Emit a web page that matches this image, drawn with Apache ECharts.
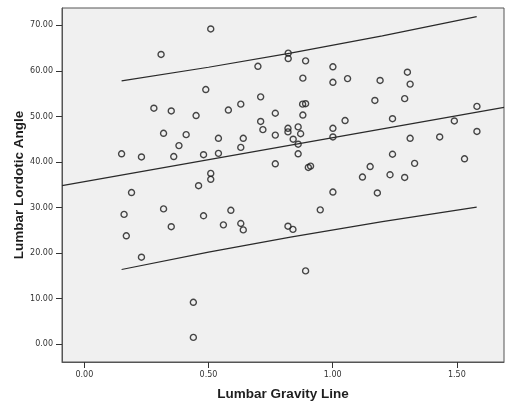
<!DOCTYPE html>
<html>
<head>
<meta charset="utf-8">
<script src="https://cdn.jsdelivr.net/npm/echarts@6/dist/echarts.min.js"></script>
<style>
  html, body { margin: 0; padding: 0; background: #fff; }
  #chart { width: 505px; height: 403px; }
</style>
</head>
<body>
<div id="chart"></div>
<script>
// observed points: [gravity line, lordotic angle]
var gravityLine = [
  0.509, 0.309, 0.489, 0.280, 0.350, 0.450, 0.580, 0.630, 0.319, 0.410,
  0.381, 0.540, 0.640, 0.630, 0.150, 0.230, 0.360, 0.480, 0.540, 0.509,
  0.509, 0.460, 0.190, 0.699, 0.821, 0.821, 0.891, 1.001, 0.880, 1.001,
  1.060, 1.191, 1.301, 1.312, 0.710, 1.170, 1.290, 0.879, 0.891, 0.769,
  0.880, 1.581, 0.710, 0.719, 1.050, 1.241, 1.490, 0.820, 0.820, 0.861,
  0.871, 0.769, 1.001, 1.001, 0.841, 0.861, 0.861, 1.312, 1.431, 1.581,
  1.241, 0.769, 0.902, 0.911, 1.531, 1.330, 1.151, 1.120, 1.231, 1.290,
  1.001, 1.180, 0.160, 0.169, 0.230, 0.319, 0.350, 0.480, 0.590, 0.560,
  0.630, 0.640, 0.439, 0.439, 0.950, 0.820, 0.840, 0.891
];
var lordoticAngle = [
  69.2, 63.6, 55.9, 51.8, 51.2, 50.2, 51.4, 52.7, 46.3, 46.0,
  43.6, 45.2, 45.2, 43.2, 41.8, 41.1, 41.2, 41.6, 41.9, 37.5,
  36.2, 34.8, 33.3, 61.0, 63.9, 62.7, 62.2, 60.9, 58.4, 57.5,
  58.3, 57.9, 59.7, 57.1, 54.3, 53.5, 53.9, 52.7, 52.8, 50.7,
  50.3, 52.2, 48.9, 47.1, 49.1, 49.5, 49.0, 47.4, 46.6, 47.7,
  46.2, 45.9, 47.4, 45.5, 45.0, 43.9, 41.8, 45.2, 45.5, 46.7,
  41.7, 39.6, 38.8, 39.1, 40.7, 39.7, 39.0, 36.7, 37.2, 36.6,
  33.4, 33.2, 28.5, 23.8, 19.1, 29.7, 25.8, 28.2, 29.4, 26.2,
  26.5, 25.1, 9.2, 1.5, 29.5, 25.9, 25.2, 16.1
];

// fit line and prediction interval
var fitX = [-0.09, 1.69];
var fitY = [34.8, 52.0];
var bandX = [0.15, 0.5, 0.83, 1.2, 1.58];
var upperY = [57.8, 60.8, 63.9, 67.7, 71.9];
var lowerY = [16.4, 20.2, 23.5, 26.9, 30.1];

var xTicks = [0, 0.5, 1.0, 1.5];
var yTicks = [0, 10, 20, 30, 40, 50, 60, 70];

function pairs(xs, ys) {
  return xs.map(function(x, i) { return [x, ys[i]]; });
}

var lineStyle = { color: "#2a2a2a", width: 1.2 };
var labelStyle = {
  fontFamily: "DejaVu Sans",
  fontSize: 8,
  color: "#333",
  formatter: function(v) { return Number(v).toFixed(2); }
};
var titleStyle = { fontFamily: "Liberation Sans", fontWeight: "bold", fontSize: 13.5, color: "#1e1e1e" };

var chart = echarts.init(document.getElementById("chart"));
chart.setOption({
  animation: false,
  backgroundColor: "#fff",
  grid: {
    left: 62, top: 8, right: 1, bottom: 41,
    outerBoundsMode: "none",
    containLabel: false,
    show: true,
    backgroundColor: "#f0f0f0",
    borderColor: "#555",
    borderWidth: 1
  },
  xAxis: {
    type: "value",
    min: -0.09,
    max: 1.69,
    name: "Lumbar Gravity Line",
    nameLocation: "middle",
    nameGap: 25,
    nameMoveOverlap: false,
    nameTextStyle: titleStyle,
    axisLine: { show: true, onZero: false, lineStyle: { color: "#555" } },
    axisTick: { show: true, length: 6, customValues: xTicks, lineStyle: { color: "#333" } },
    axisLabel: Object.assign({ margin: 9, customValues: xTicks }, labelStyle),
    splitLine: { show: false }
  },
  yAxis: {
    type: "value",
    min: -3.9,
    max: 73.8,
    name: "Lumbar Lordotic Angle",
    nameLocation: "middle",
    nameGap: 36,
    nameMoveOverlap: false,
    nameTextStyle: titleStyle,
    axisLine: { show: true, onZero: false, lineStyle: { color: "#555" } },
    axisTick: { show: true, length: 6, customValues: yTicks, lineStyle: { color: "#333" } },
    axisLabel: Object.assign({ margin: 9, customValues: yTicks }, labelStyle),
    splitLine: { show: false }
  },
  series: [
    {
      type: "line",
      data: pairs(fitX, fitY),
      symbol: "none",
      lineStyle: lineStyle,
      silent: true
    },
    {
      type: "line",
      data: pairs(bandX, upperY),
      symbol: "none",
      lineStyle: lineStyle,
      silent: true
    },
    {
      type: "line",
      data: pairs(bandX, lowerY),
      symbol: "none",
      lineStyle: lineStyle,
      silent: true
    },
    {
      type: "scatter",
      data: pairs(gravityLine, lordoticAngle),
      symbol: "circle",
      symbolSize: 6,
      itemStyle: { color: "rgba(0,0,0,0)", borderColor: "#1a1a1a", borderWidth: 1.4 }
    }
  ]
});
</script>
</body>
</html>
